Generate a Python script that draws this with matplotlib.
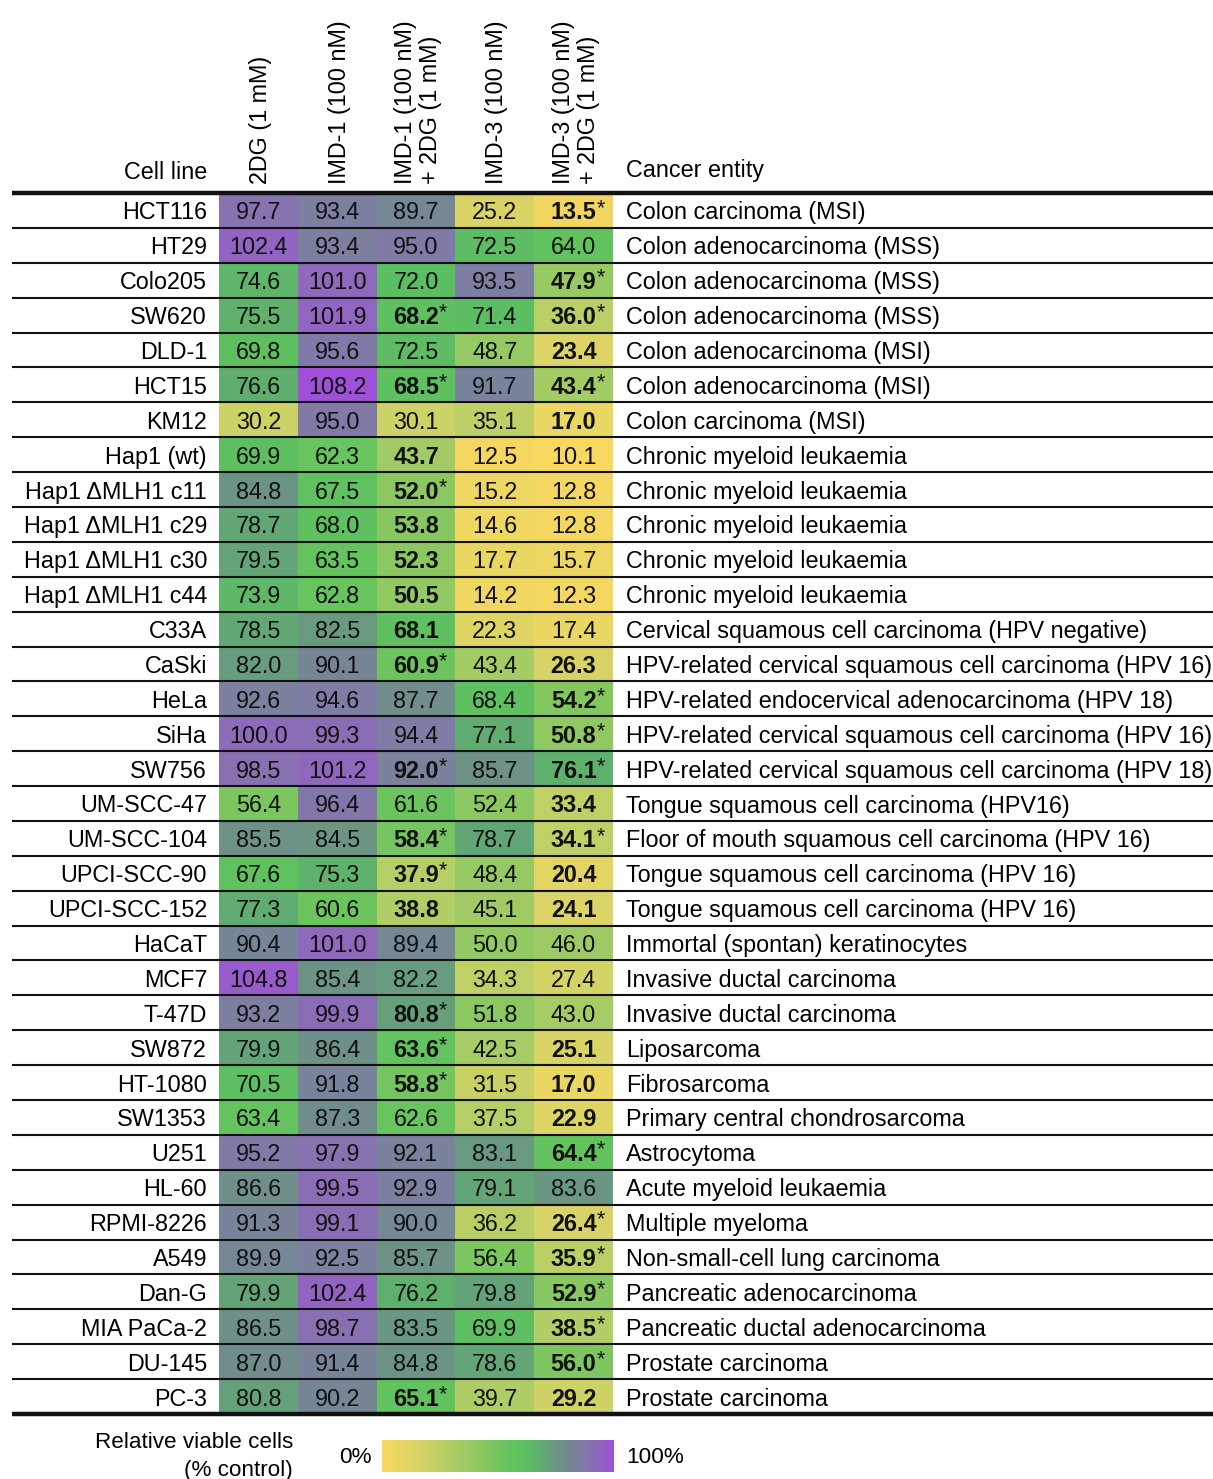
import numpy as np
import matplotlib
matplotlib.use('Agg')
import matplotlib.pyplot as plt
from matplotlib.colors import LinearSegmentedColormap, Normalize

plt.rcParams['font.family'] = ['Liberation Sans', 'DejaVu Sans']

# data
cell_lines = ['HCT116', 'HT29', 'Colo205', 'SW620', 'DLD-1', 'HCT15', 'KM12',
              'Hap1 (wt)', 'Hap1 ΔMLH1 c11', 'Hap1 ΔMLH1 c29', 'Hap1 ΔMLH1 c30',
              'Hap1 ΔMLH1 c44', 'C33A', 'CaSki', 'HeLa', 'SiHa', 'SW756',
              'UM-SCC-47', 'UM-SCC-104', 'UPCI-SCC-90', 'UPCI-SCC-152', 'HaCaT',
              'MCF7', 'T-47D', 'SW872', 'HT-1080', 'SW1353', 'U251', 'HL-60',
              'RPMI-8226', 'A549', 'Dan-G', 'MIA PaCa-2', 'DU-145', 'PC-3']
entities = ['Colon carcinoma (MSI)', 'Colon adenocarcinoma (MSS)',
            'Colon adenocarcinoma (MSS)', 'Colon adenocarcinoma (MSS)',
            'Colon adenocarcinoma (MSI)', 'Colon adenocarcinoma (MSI)',
            'Colon carcinoma (MSI)', 'Chronic myeloid leukaemia',
            'Chronic myeloid leukaemia', 'Chronic myeloid leukaemia',
            'Chronic myeloid leukaemia', 'Chronic myeloid leukaemia',
            'Cervical squamous cell carcinoma (HPV negative)',
            'HPV-related cervical squamous cell carcinoma (HPV 16)',
            'HPV-related endocervical adenocarcinoma (HPV 18)',
            'HPV-related cervical squamous cell carcinoma (HPV 16)',
            'HPV-related cervical squamous cell carcinoma (HPV 18)',
            'Tongue squamous cell carcinoma (HPV16)',
            'Floor of mouth squamous cell carcinoma (HPV 16)',
            'Tongue squamous cell carcinoma (HPV 16)',
            'Tongue squamous cell carcinoma (HPV 16)',
            'Immortal (spontan) keratinocytes', 'Invasive ductal carcinoma',
            'Invasive ductal carcinoma', 'Liposarcoma', 'Fibrosarcoma',
            'Primary central chondrosarcoma', 'Astrocytoma',
            'Acute myeloid leukaemia', 'Multiple myeloma',
            'Non-small-cell lung carcinoma', 'Pancreatic adenocarcinoma',
            'Pancreatic ductal adenocarcinoma', 'Prostate carcinoma',
            'Prostate carcinoma']
treatments = ['2DG (1 mM)', 'IMD-1 (100 nM)', 'IMD-1 (100 nM)\n+ 2DG (1 mM)',
              'IMD-3 (100 nM)', 'IMD-3 (100 nM)\n+ 2DG (1 mM)']

dg = [97.7, 102.4, 74.6, 75.5, 69.8, 76.6, 30.2, 69.9, 84.8, 78.7, 79.5, 73.9,
      78.5, 82.0, 92.6, 100.0, 98.5, 56.4, 85.5, 67.6, 77.3, 90.4, 104.8, 93.2,
      79.9, 70.5, 63.4, 95.2, 86.6, 91.3, 89.9, 79.9, 86.5, 87.0, 80.8]
imd1 = [93.4, 93.4, 101.0, 101.9, 95.6, 108.2, 95.0, 62.3, 67.5, 68.0, 63.5, 62.8,
        82.5, 90.1, 94.6, 99.3, 101.2, 96.4, 84.5, 75.3, 60.6, 101.0, 85.4, 99.9,
        86.4, 91.8, 87.3, 97.9, 99.5, 99.1, 92.5, 102.4, 98.7, 91.4, 90.2]
imd1_dg = [89.7, 95.0, 72.0, 68.2, 72.5, 68.5, 30.1, 43.7, 52.0, 53.8, 52.3, 50.5,
           68.1, 60.9, 87.7, 94.4, 92.0, 61.6, 58.4, 37.9, 38.8, 89.4, 82.2, 80.8,
           63.6, 58.8, 62.6, 92.1, 92.9, 90.0, 85.7, 76.2, 83.5, 84.8, 65.1]
imd3 = [25.2, 72.5, 93.5, 71.4, 48.7, 91.7, 35.1, 12.5, 15.2, 14.6, 17.7, 14.2,
        22.3, 43.4, 68.4, 77.1, 85.7, 52.4, 78.7, 48.4, 45.1, 50.0, 34.3, 51.8,
        42.5, 31.5, 37.5, 83.1, 79.1, 36.2, 56.4, 79.8, 69.9, 78.6, 39.7]
imd3_dg = [13.5, 64.0, 47.9, 36.0, 23.4, 43.4, 17.0, 10.1, 12.8, 12.8, 15.7, 12.3,
           17.4, 26.3, 54.2, 50.8, 76.1, 33.4, 34.1, 20.4, 24.1, 46.0, 27.4, 43.0,
           25.1, 17.0, 22.9, 64.4, 83.6, 26.4, 35.9, 52.9, 38.5, 56.0, 29.2]

# '' plain, 'b' bold, '*' bold with asterisk
imd1_dg_mark = ['', '', '', '*', '', '*', '', 'b', '*', 'b', 'b', 'b', 'b', '*',
                '', '', '*', '', '*', '*', 'b', '', '', '*', '*', '*', '', '', '',
                '', '', '', '', '', '*']
imd3_dg_mark = ['*', '', '*', '*', 'b', '*', 'b', '', '', '', '', '', '', 'b',
                '*', '*', '*', 'b', '*', 'b', 'b', '', '', '', 'b', 'b', 'b', '*',
                '', '*', '*', '*', '*', '*', 'b']
plain = [''] * len(cell_lines)

values = np.array([dg, imd1, imd1_dg, imd3, imd3_dg]).T
marks = [plain, plain, imd1_dg_mark, plain, imd3_dg_mark]

# colour scale: yellow -> green -> grey -> purple
lo, hi = 10, 108
nodes = [(10, '#F8D860'), (25, '#DAD466'), (40, '#AECD66'), (52, '#8CC862'),
         (64, '#62C35E'), (72, '#5CBE62'), (80, '#64A278'), (87, '#708E8A'),
         (93, '#7C80A0'), (99, '#8870B2'), (102, '#9066C0'), (108, '#A050D8')]
cmap = LinearSegmentedColormap.from_list(
    'viab', [((v - lo) / (hi - lo), c) for v, c in nodes])
norm = Normalize(lo, hi)

W, H = 1213, 1479
fig = plt.figure(figsize=(W / 100, H / 100), dpi=100)
ax = fig.add_axes([0, 0, 1, 1])
ax.set_xlim(0, W)
ax.set_ylim(H, 0)
ax.axis('off')

n_rows, n_cols = values.shape
x0, x1, y0, y1 = 219, 613, 193, 1414
xe = np.linspace(x0, x1, n_cols + 1)
ye = np.linspace(y0, y1, n_rows + 1)
xc = (xe[:-1] + xe[1:]) / 2
yc = (ye[:-1] + ye[1:]) / 2

ax.pcolormesh(xe, ye, values, cmap=cmap, norm=norm, shading='flat')

fs = 16.8
for i in range(n_rows):
    ax.text(207, yc[i], cell_lines[i], ha='right', va='center_baseline', fontsize=fs)
    ax.text(626, yc[i], entities[i], ha='left', va='center_baseline', fontsize=fs)
    for j in range(n_cols):
        m = marks[j][i]
        t = ax.text(xc[j], yc[i], f'{values[i, j]:.1f}', ha='center',
                    va='center_baseline', fontsize=fs,
                    fontweight='bold' if m else 'normal', color='#111111')
        if m == '*':
            ax.annotate('*', xy=(1.0, 1.16), xycoords=t, ha='left', va='top',
                        fontsize=15.5, color='#111111')

# row rules
for k, y in enumerate(ye):
    lw = 3.2 if k in (0, n_rows) else 1.5
    ax.plot([12, W], [y, y], color='#111111', lw=lw, solid_capstyle='butt')

# headers
for j, lab in enumerate(treatments):
    ax.text(xc[j] + 2, 184, lab, rotation=90, ha='center', va='bottom',
            multialignment='left', fontsize=fs, linespacing=1.1)
ax.text(207, 179, 'Cell line', ha='right', va='baseline', fontsize=fs)
ax.text(626, 177, 'Cancer entity', ha='left', va='baseline', fontsize=fs)

# legend
lfs = 16.2
ax.text(293, 1448, 'Relative viable cells', ha='right', va='baseline', fontsize=lfs)
ax.text(293, 1476, '(% control)', ha='right', va='baseline', fontsize=lfs)
ax.text(372, 1463, '0%', ha='right', va='baseline', fontsize=lfs)
ax.text(626, 1463, '100%', ha='left', va='baseline', fontsize=lfs)
grad = np.linspace(lo, hi, 256)[None, :]
ax.imshow(grad, cmap=cmap, norm=norm, aspect='auto',
          extent=(382, 614, 1472, 1440), interpolation='bilinear')
ax.set_xlim(0, W)
ax.set_ylim(H, 0)

fig.savefig('out.png', dpi=100)
